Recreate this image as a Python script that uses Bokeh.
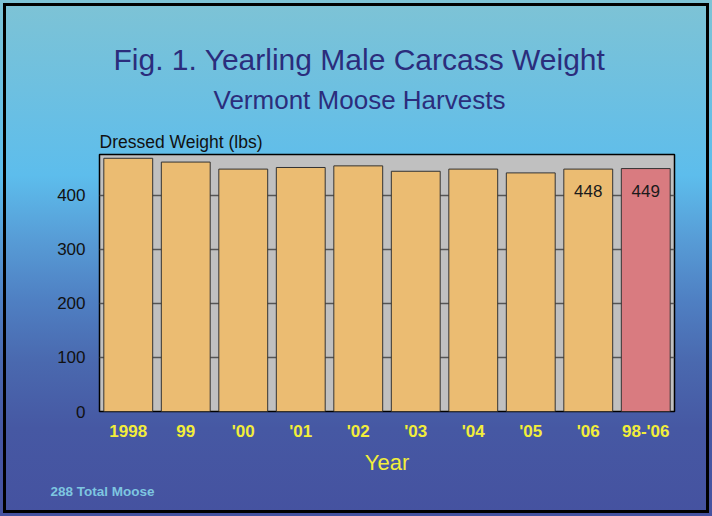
from bokeh.plotting import figure
from bokeh.models import Title, Range1d, FactorRange, ColumnDataSource
from bokeh.core.properties import value
from bokeh.embed import file_html
from bokeh.resources import INLINE

# ---- data ----
years = ["1998", "99", "'00", "'01", "'02", "'03", "'04", "'05", "'06", "98-'06"]
weights = [468, 461, 448, 451, 454, 444, 448, 441, 448, 449]
bar_colors = ["#EBBC72"] * 9 + ["#D97B80"]
label_years = ["'06", "98-'06"]
label_values = [448, 449]
label_texts = ["448", "449"]
y_ticks = [0, 100, 200, 300, 400]

FONT = "Liberation Sans"

p = figure(
    width=712, height=516,
    x_range=FactorRange(factors=years, range_padding=0),
    y_range=Range1d(0, 475),
    output_backend="svg", toolbar_location=None,
    min_border_left=99, min_border_right=38,
    min_border_top=154, min_border_bottom=105,
    title="Fig. 1. Yearling Male Carcass Weight",
)

p.styles = {
    "background": "linear-gradient(to bottom, #7EC3D5 0%, #5DBDEC 34%, #579CD6 46.5%, #4F80C3 58%, #4A69AF 70%, #4658A3 83%, #4552A0 100%)",
    "outline": "3px solid black",
    "outline-offset": "-6px",
}
p.border_fill_color = None
p.background_fill_color = "#C0C0C0"
p.outline_line_color = "black"
p.outline_line_width = 1.5

# main title
p.title.align = "left"
p.title.offset = 14
p.title.text_font = FONT
p.title.text_font_size = "30px"
p.title.text_font_style = "normal"
p.title.text_color = "#2B2D7C"
p.title.standoff = -10

src = ColumnDataSource(dict(years=years, weights=weights, colors=bar_colors))
p.vbar(x="years", top="weights", width=0.85, source=src,
       fill_color="colors", line_color="#333333", line_width=1)

lsrc = ColumnDataSource(dict(x=label_years, y=label_values, t=label_texts))
p.text(x="x", y="y", text="t", source=lsrc, text_align="center",
       text_baseline="middle", y_offset=22, text_font=value(FONT),
       text_font_size="17px", text_color="#1a1a1a")

# axes
p.yaxis.ticker = y_ticks
p.yaxis.axis_line_color = None
p.yaxis.major_tick_line_color = None
p.yaxis.minor_tick_line_color = None
p.yaxis.major_tick_out = 0
p.yaxis.major_tick_in = 0
p.yaxis.major_label_standoff = 14
p.yaxis.major_label_text_font = FONT
p.yaxis.major_label_text_font_size = "17px"
p.yaxis.major_label_text_color = "#111111"

p.xaxis.axis_line_color = None
p.xaxis.major_tick_line_color = None
p.xaxis.major_tick_out = 0
p.xaxis.major_tick_in = 0
p.xaxis.major_label_standoff = 10
p.xaxis.major_label_text_font = FONT
p.xaxis.major_label_text_font_size = "17px"
p.xaxis.major_label_text_font_style = "bold"
p.xaxis.major_label_text_color = "#F2EE3A"
p.xaxis.axis_label = "Year"
p.xaxis.axis_label_standoff = 6
p.xaxis.axis_label_text_font = FONT
p.xaxis.axis_label_text_font_size = "22px"
p.xaxis.axis_label_text_font_style = "normal"
p.xaxis.axis_label_text_color = "#F2EE3A"

p.xgrid.grid_line_color = None
p.ygrid.grid_line_color = "#555555"
p.ygrid.grid_line_width = 1.5

# above: nearest the frame first
ylab = Title(text="Dressed Weight (lbs)", align="left", text_font=FONT,
             text_font_size="17.5px", text_font_style="normal",
             text_color="#111111", standoff=5)
sub = Title(text="Vermont Moose Harvests", align="left", offset=114,
            text_font=FONT, text_font_size="26px", text_font_style="normal",
            text_color="#2B2D7C", standoff=25)
p.add_layout(ylab, "above")
p.add_layout(sub, "above")

note = Title(text="288 Total Moose", align="left", offset=-49, text_font=FONT,
             text_font_size="13.5px", text_font_style="bold",
             text_color="#7EC6E0", standoff=9)
p.add_layout(note, "below")

open("out.html", "w").write(file_html(p, INLINE))
